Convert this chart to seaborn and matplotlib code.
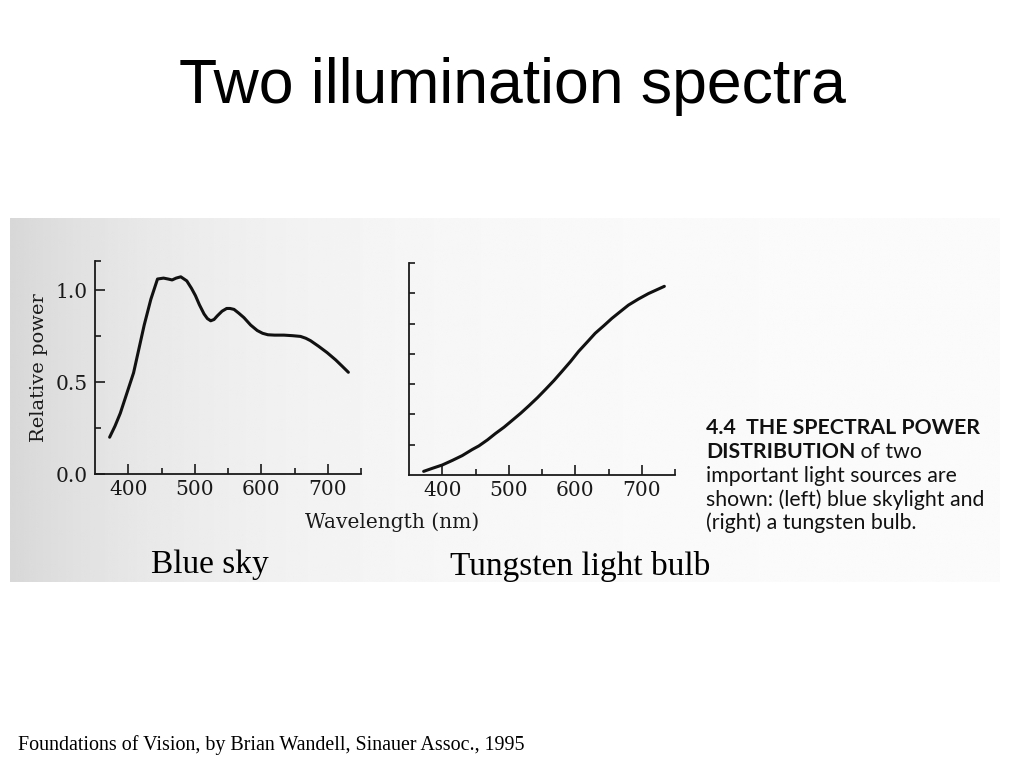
"""
Two illumination spectra: blue sky vs tungsten bulb (Wandell, Foundations of Vision)
"""

import numpy as np
import matplotlib
matplotlib.use("Agg")
import matplotlib.pyplot as plt
import seaborn as sns

# Blue sky spectral power distribution
sky_wavelength = [372, 380, 388, 398, 408, 416, 424, 434, 444, 453, 460, 466, 472, 479,
                  488, 495, 501, 507, 514, 519, 524, 529, 534, 541, 548, 553, 559, 566,
                  574, 584, 594, 602, 610, 620, 634, 647, 659, 667, 674, 686, 699, 712,
                  722, 731]
sky_power = [0.20, 0.26, 0.33, 0.44, 0.55, 0.68, 0.81, 0.95, 1.06, 1.065, 1.06, 1.055, 1.065, 1.072,
             1.05, 1.01, 0.97, 0.92, 0.87, 0.845, 0.833, 0.84, 0.86, 0.885, 0.90, 0.90, 0.895, 0.875,
             0.85, 0.81, 0.78, 0.765, 0.757, 0.755, 0.755, 0.752, 0.748, 0.738, 0.725, 0.695, 0.66, 0.62,
             0.585, 0.553]

# Tungsten bulb spectral power distribution (arbitrary units, one unit per tick)
bulb_wavelength = [372, 385, 400, 415, 430, 445, 455, 468, 480, 493, 505, 518, 530, 543,
                   555, 568, 580, 593, 605, 618, 630, 643, 655, 668, 680, 695, 710, 722, 734]
bulb_power = [0.12, 0.22, 0.33, 0.48, 0.64, 0.84, 0.96, 1.16, 1.37, 1.58, 1.80, 2.04, 2.28, 2.55,
              2.82, 3.12, 3.42, 3.75, 4.08, 4.39, 4.68, 4.93, 5.17, 5.40, 5.61, 5.81, 5.99, 6.11, 6.23]

x_major = [400, 500, 600, 700]
x_minor = [450, 550, 650, 750]
sky_yticks = [0.0, 0.5, 1.0]
sky_yticks_minor = [0.25, 0.75]
bulb_yticks = [1, 2, 3, 4, 5, 6, 7]

title = "Two illumination spectra"
caption_lines = ["important light sources are",
                 "shown: (left) blue skylight and",
                 "(right) a tungsten bulb."]
footer = "Foundations of Vision, by Brian Wandell, Sinauer Assoc., 1995"

sns.set_style("ticks")
plt.rcParams['font.family'] = ['DejaVu Serif']

W, H = 1024, 768
fig = plt.figure(figsize=(W / 100, H / 100), dpi=100)
fig.patch.set_facecolor("white")

# scanned page background with a soft left-to-right shading
bg = fig.add_axes([0, 0, 1, 1], zorder=-5)
bg.set_xlim(0, W)
bg.set_ylim(H, 0)
bg.axis("off")
xx = np.linspace(0, 1, 400)
shade = 0.985 - 0.14 * np.exp(-xx / 0.22)
bg.imshow(np.tile(shade, (10, 1)), cmap="gray", vmin=0, vmax=1, aspect="auto",
          extent=[10, 1000, 582, 218], interpolation="bilinear")


def px_axes(left, top, right, bottom):
    return fig.add_axes([left / W, 1 - bottom / H, (right - left) / W, (bottom - top) / H])


def style_axis(ax):
    ax.set_facecolor("none")
    sns.despine(ax=ax)
    for side in ["left", "bottom"]:
        ax.spines[side].set_linewidth(1.3)
        ax.spines[side].set_color("#1a1a1a")
    ax.set_xlim(350, 750)
    ax.set_xticks(x_major)
    ax.set_xticks(x_minor, minor=True)
    ax.tick_params(which="both", direction="in", color="#1a1a1a", width=1.2,
                   labelsize=14.5, labelcolor="#1a1a1a")
    ax.tick_params(which="major", length=7)
    ax.tick_params(which="minor", length=4)
    ax.tick_params(axis="x", pad=4)
    ax.set_xlabel("")
    ax.set_ylabel("")


# left panel: blue sky
ax1 = px_axes(95, 261, 361, 474)
sns.lineplot(x=sky_wavelength, y=sky_power, ax=ax1, color="#111111", linewidth=2.2,
             sort=False, estimator=None)
style_axis(ax1)
ax1.set_ylim(0, 1.158)
ax1.set_yticks(sky_yticks)
ax1.set_yticklabels(["0.0", "0.5", "1.0"])
ax1.set_yticks(sky_yticks_minor + [1.158], minor=True)
ax1.tick_params(axis="y", pad=5)
ax1.set_ylabel("Relative power", fontsize=14, color="#1a1a1a", labelpad=6)

# right panel: tungsten bulb
ax2 = px_axes(409, 263, 675, 475)
sns.lineplot(x=bulb_wavelength, y=bulb_power, ax=ax2, color="#111111", linewidth=2.2,
             sort=False, estimator=None)
style_axis(ax2)
ax2.set_ylim(0, 7)
ax2.set_yticks(bulb_yticks)
ax2.set_yticklabels([])
ax2.tick_params(axis="y", which="major", length=4)

fig.text(392 / W, 1 - 522 / H, "Wavelength (nm)", ha="center", va="center",
         fontsize=14.5, color="#1a1a1a")

# panel names and slide title
fig.text(210 / W, 1 - 565 / H, "Blue sky", ha="center", va="center",
         fontsize=24, family="Liberation Serif", color="black")
fig.text(580 / W, 1 - 567 / H, "Tungsten light bulb", ha="center", va="center",
         fontsize=24, family="Liberation Serif", color="black")
fig.text(512 / W, 1 - 86 / H, title, ha="center", va="center",
         fontsize=45, family="Liberation Sans", color="black")
fig.text(18 / W, 1 - 745 / H, footer, ha="left", va="center",
         fontsize=14.4, family="Liberation Serif", color="black")

# figure caption from the book
cap_kw = dict(ha="left", va="center", fontsize=15.3, family="Lato", color="#111111")
fig.text(706 / W, 1 - 428 / H, "4.4  THE SPECTRAL POWER", fontweight="bold", **cap_kw)
t_bold = fig.text(706 / W, 1 - 452 / H, "DISTRIBUTION", fontweight="bold", **cap_kw)
fig.canvas.draw()
bb = t_bold.get_window_extent(fig.canvas.get_renderer())
fig.text(bb.x1 / W, 1 - 452 / H, " of two", **cap_kw)
for i, line in enumerate(caption_lines):
    fig.text(706 / W, 1 - (476 + 23.5 * i) / H, line, **cap_kw)

fig.savefig("out.png", dpi=100)
